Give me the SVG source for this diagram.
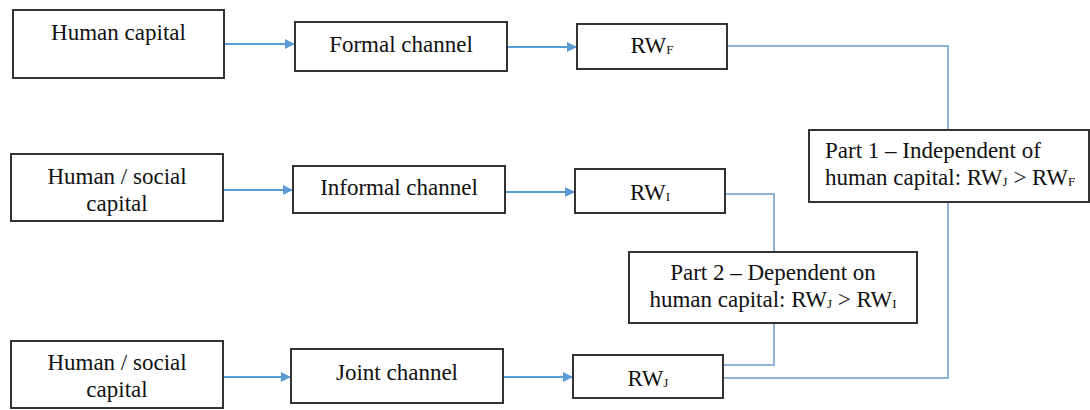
<svg xmlns="http://www.w3.org/2000/svg" width="1090" height="410" viewBox="0 0 1090 410">
<defs>
<marker id="ah" markerWidth="10" markerHeight="10" refX="9" refY="5" orient="auto" markerUnits="userSpaceOnUse">
<path d="M0,0 L10,5 L0,10 Z" fill="#5b9bd5"/>
</marker>
<style>
.box{fill:#fff;stroke:#333;stroke-width:2}
.t{font-family:"Liberation Serif","Times New Roman",serif;font-size:23px;fill:#111}
.c{text-anchor:middle}
.sub{font-size:13px}
.arr{stroke:#5b9bd5;stroke-width:2;fill:none;marker-end:url(#ah)}
.ln{stroke:#8fb4dc;stroke-width:2;fill:none}
</style>
</defs>
<rect width="1090" height="410" fill="#fff"/>
<g id="connectors">
<line class="arr" x1="224" y1="44" x2="294" y2="44"/>
<line class="arr" x1="507" y1="47" x2="576" y2="47"/>
<line class="arr" x1="223" y1="190" x2="292" y2="190"/>
<line class="arr" x1="505" y1="192" x2="574" y2="192"/>
<line class="arr" x1="223" y1="377" x2="290" y2="377"/>
<line class="arr" x1="503" y1="377" x2="572" y2="377"/>
<polyline class="ln" points="727,46 948,46 948,378 723,378"/>
<polyline class="ln" points="725,194 774,194 774,252"/>
<polyline class="ln" points="774,323 774,365 723,365"/>
</g>
<g id="n-human-capital">
<rect class="box" x="13" y="10" width="211" height="68"/>
<text class="t c" x="118.5" y="40">Human capital</text>
</g>
<g id="n-formal">
<rect class="box" x="295" y="22" width="212" height="49"/>
<text class="t c" x="401" y="52">Formal channel</text>
</g>
<g id="n-rwf">
<rect class="box" x="577" y="24" width="150" height="45"/>
<text class="t c" x="652" y="53">RW<tspan class="sub" dy="1">F</tspan></text>
</g>
<g id="n-human-social-1">
<rect class="box" x="11" y="154" width="212" height="67"/>
<text class="t c" x="117" y="184">Human / social</text>
<text class="t c" x="117" y="211">capital</text>
</g>
<g id="n-informal">
<rect class="box" x="293" y="166" width="212" height="47"/>
<text class="t c" x="399" y="195">Informal channel</text>
</g>
<g id="n-rwi">
<rect class="box" x="575" y="169" width="150" height="44"/>
<text class="t c" x="650" y="200">RW<tspan class="sub" dy="1">I</tspan></text>
</g>
<g id="n-human-social-2">
<rect class="box" x="11" y="341" width="212" height="67"/>
<text class="t c" x="117" y="370">Human / social</text>
<text class="t c" x="117" y="397">capital</text>
</g>
<g id="n-joint">
<rect class="box" x="291" y="349" width="212" height="54"/>
<text class="t c" x="397" y="380">Joint channel</text>
</g>
<g id="n-rwj">
<rect class="box" x="573" y="355" width="150" height="43"/>
<text class="t c" x="648" y="386">RW<tspan class="sub" dy="1">J</tspan></text>
</g>
<g id="n-part1">
<rect class="box" x="809" y="130" width="280" height="72"/>
<text class="t" x="825" y="158">Part 1 – Independent of</text>
<text class="t" x="825" y="185">human capital: RW<tspan class="sub" dy="1">J</tspan><tspan dy="-1"> &gt; RW</tspan><tspan class="sub" dy="1">F</tspan></text>
</g>
<g id="n-part2">
<rect class="box" x="629" y="252" width="288" height="71"/>
<text class="t c" x="773" y="280">Part 2 – Dependent on</text>
<text class="t c" x="773" y="307">human capital: RW<tspan class="sub" dy="1">J</tspan><tspan dy="-1"> &gt; RW</tspan><tspan class="sub" dy="1">I</tspan></text>
</g>
</svg>
